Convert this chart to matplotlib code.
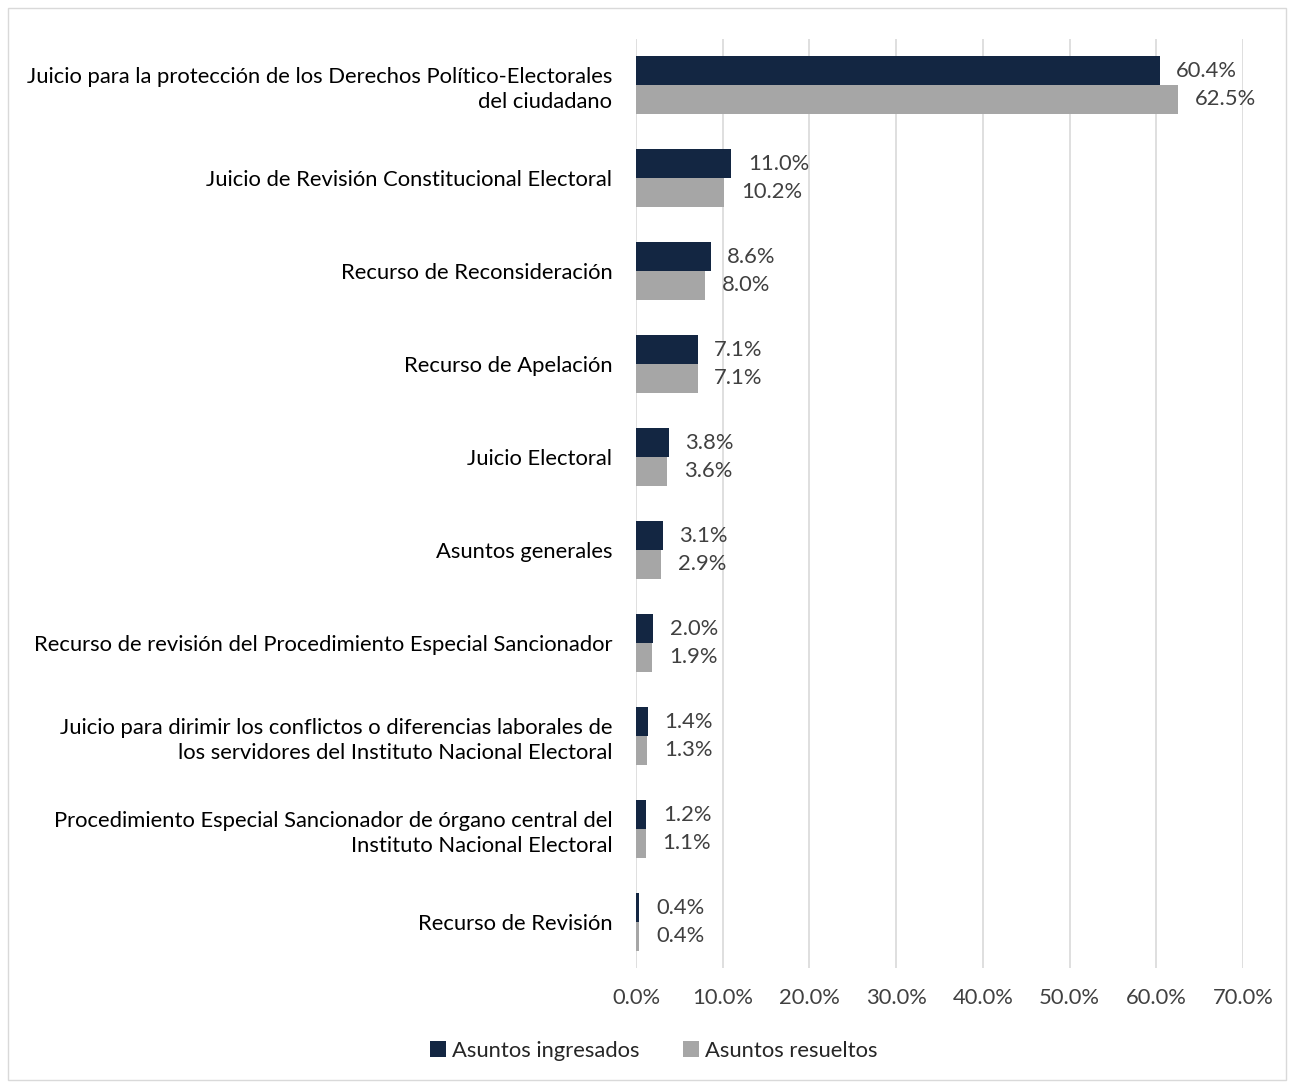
import numpy as np
import matplotlib.pyplot as plt
from matplotlib.patches import Rectangle

# ─── DATA ─────────────────────────────────────────────────
categorias = [
    "Juicio para la protección de los Derechos Político-Electorales\ndel ciudadano",
    "Juicio de Revisión Constitucional Electoral",
    "Recurso de Reconsideración",
    "Recurso de Apelación",
    "Juicio Electoral",
    "Asuntos generales",
    "Recurso de revisión del Procedimiento Especial Sancionador",
    "Juicio para dirimir los conflictos o diferencias laborales de\nlos servidores del Instituto Nacional Electoral",
    "Procedimiento Especial Sancionador de órgano central del\nInstituto Nacional Electoral",
    "Recurso de Revisión",
]
ingresados = [60.4, 11.0, 8.6, 7.1, 3.8, 3.1, 2.0, 1.4, 1.2, 0.4]
resueltos  = [62.5, 10.2, 8.0, 7.1, 3.6, 2.9, 1.9, 1.3, 1.1, 0.4]
series = ["Asuntos ingresados", "Asuntos resueltos"]

# ─── STYLE ────────────────────────────────────────────────
plt.rcParams['font.family'] = ['Lato', 'DejaVu Sans']
NAVY = '#132642'
GRAY = '#A6A6A6'
TXT = '#404040'
FS = 15.8

fig = plt.figure(figsize=(12.94, 10.85), dpi=100)
fig.patches.append(Rectangle((8 / 1294, 1 - 1080 / 1085), 1278 / 1294, 1072 / 1085,
                             transform=fig.transFigure, fill=False,
                             edgecolor='#D9D9D9', linewidth=1))
ax = fig.add_axes([0.4915, 0.1074, 0.9606 - 0.4915, 0.9645 - 0.1074])

y = np.arange(len(categorias))
h = 0.31
b1 = ax.barh(y - h / 2, ingresados, height=h, color=NAVY, label=series[0])
b2 = ax.barh(y + h / 2, resueltos, height=h, color=GRAY, label=series[1])

for bars, vals in ((b1, ingresados), (b2, resueltos)):
    for bar, v in zip(bars, vals):
        ax.text(bar.get_width() + 1.9, bar.get_y() + bar.get_height() / 2,
                f"{v:.1f}%", va='center', ha='left', fontsize=FS, color=TXT)

ax.set_xlim(0, 70)
ax.set_ylim(len(categorias) - 0.5, -0.5)
ax.set_xticks(np.arange(0, 71, 10))
ax.set_xticklabels([f"{t:.1f}%" for t in np.arange(0, 71, 10)], fontsize=FS, color=TXT)
ax.set_yticks(y)
ax.set_yticklabels(categorias, fontsize=FS, color='black', ha='right',
                   multialignment='right', linespacing=1.3)
ax.tick_params(axis='both', length=0)
ax.tick_params(axis='y', pad=17)
ax.tick_params(axis='x', pad=14)
ax.grid(axis='x', color='#D9D9D9', linewidth=1.2)
ax.set_axisbelow(True)
for s in ax.spines.values():
    s.set_visible(False)

fig.legend(handles=[b1, b2], labels=series, loc='center', ncol=2,
           bbox_to_anchor=(0.505, 1 - 1051 / 1085), frameon=False, fontsize=FS,
           handlelength=0.75, handleheight=0.75, handletextpad=0.25, columnspacing=2.0,
           labelcolor='#262626')

fig.savefig('out.png', dpi=100)
